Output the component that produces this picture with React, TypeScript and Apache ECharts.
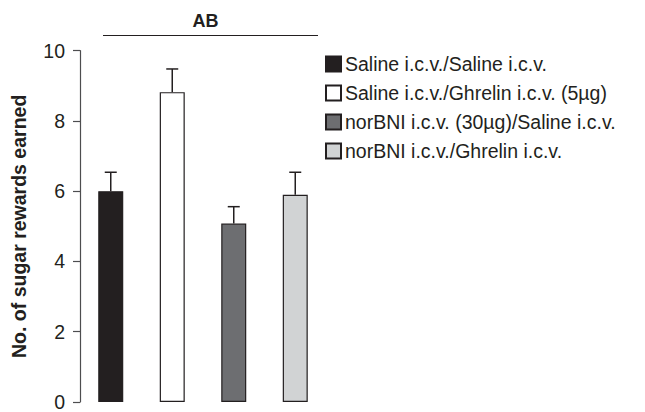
import React, { useEffect, useRef } from "react";
import * as echarts from "echarts";

const categories = [
  "Saline i.c.v./Saline i.c.v.",
  "Saline i.c.v./Ghrelin i.c.v. (5µg)",
  "norBNI i.c.v. (30µg)/Saline i.c.v.",
  "norBNI i.c.v./Ghrelin i.c.v.",
];
const means = [6.0, 8.82, 5.08, 5.9];
const errors = [0.54, 0.66, 0.48, 0.64];
const colors = ["#231f20", "#ffffff", "#6d6e71", "#d1d3d4"];
const yTicks = { min: 0, max: 10, interval: 2 };

export default function App() {
  const ref = useRef<HTMLDivElement>(null);
  useEffect(() => {
    if (!ref.current) return;
    const chart = echarts.init(ref.current, null, { renderer: "svg" });
    const font = "'Liberation Sans', Arial, Helvetica, sans-serif";
    const barSeries = categories.map((name, i) => ({
      name,
      type: "bar",
      stack: "all",
      barWidth: 25,
      itemStyle: { color: colors[i], borderColor: "#231f20", borderWidth: 1.2 },
      data: categories.map((_, j) => (j === i ? means[i] : null)),
    }));
    const errData = means.map((m, i) => [i, m, m + errors[i]]);
    chart.setOption({
      animation: false,
      textStyle: { fontFamily: font },
      grid: { left: 80, right: 319, top: 50.7, bottom: 7, containLabel: false },
      xAxis: {
        type: "category",
        data: categories,
        axisLine: { show: false },
        axisTick: { show: false },
        axisLabel: { show: false },
      },
      yAxis: {
        type: "value",
        min: yTicks.min,
        max: yTicks.max,
        interval: yTicks.interval,
        name: "No. of sugar rewards earned",
        nameLocation: "middle",
        nameGap: 51,
        nameTextStyle: { fontSize: 19.5, fontWeight: "bold", color: "#231f20", fontFamily: font },
        axisLine: { show: true, lineStyle: { color: "#4d4d4f", width: 1.2 } },
        axisTick: { show: true, length: 7, lineStyle: { color: "#4d4d4f", width: 1.2 } },
        axisLabel: { fontSize: 19.5, color: "#231f20", margin: 15, fontFamily: font },
        splitLine: { show: false },
      },
      legend: {
        orient: "vertical",
        left: 325,
        top: 54,
        padding: 0,
        itemWidth: 15,
        itemHeight: 15,
        itemGap: 9,
        icon: "rect",
        textStyle: {
          fontSize: 19.5,
          lineHeight: 15,
          color: "#231f20",
          fontFamily: font,
          padding: [0, 0, 0, -1],
        },
        data: categories,
      },
      graphic: [
        {
          type: "text",
          x: 205.5,
          y: 20.5,
          style: {
            text: "AB",
            font: `bold 18px ${font}`,
            fill: "#231f20",
            align: "center",
            verticalAlign: "middle",
          },
        },
        {
          type: "line",
          shape: { x1: 103, y1: 35.5, x2: 318, y2: 35.5 },
          style: { stroke: "#231f20", lineWidth: 1.2 },
        },
      ],
      series: [
        ...barSeries,
        {
          type: "custom",
          name: "err",
          data: errData,
          z: 1,
          renderItem: (params: any, api: any) => {
            const x = api.value(0);
            const lo = api.coord([x, api.value(1)]);
            const hi = api.coord([x, api.value(2)]);
            const half = 6;
            return {
              type: "group",
              children: [
                {
                  type: "line",
                  shape: { x1: lo[0], y1: lo[1], x2: hi[0], y2: hi[1] },
                  style: { stroke: "#231f20", lineWidth: 1.5 },
                },
                {
                  type: "line",
                  shape: { x1: hi[0] - half, y1: hi[1], x2: hi[0] + half, y2: hi[1] },
                  style: { stroke: "#231f20", lineWidth: 1.5 },
                },
              ],
            };
          },
        },
      ],
    });
    return () => chart.dispose();
  }, []);
  return <div ref={ref} style={{ width: 645, height: 412, position: "absolute", left: 0, top: 0 }} />;
}
